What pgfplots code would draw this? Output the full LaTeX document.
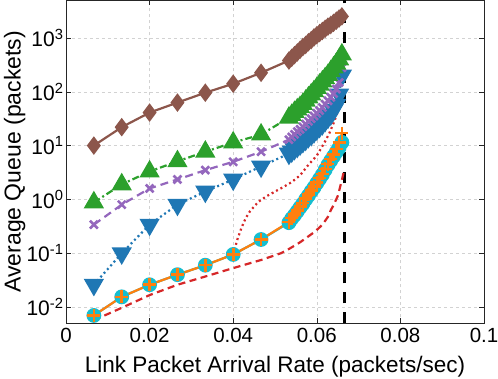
\documentclass[border=0pt]{standalone}
\usepackage{fontspec}
\setmainfont{Liberation Sans}
\usepackage{pgfplots}
\usepackage{pgfplotstable}
\pgfplotsset{compat=1.18}

\definecolor{tbrown}{HTML}{8C564B}
\definecolor{tgreen}{HTML}{2CA02C}
\definecolor{tpurple}{HTML}{9467BD}
\definecolor{tblue}{HTML}{1F77B4}
\definecolor{tcyan}{HTML}{17BECF}
\definecolor{torange}{HTML}{FF7F0E}
\definecolor{tred}{HTML}{D62728}
\definecolor{axgray}{HTML}{262626}

\pgfplotstableread{
x        brown green purple blue  cyan   orange
0.006667 10    0.88  0.34   0.026 0.0070 0.0070
0.013333 22    1.9   0.8    0.10  0.0155 0.0155
0.020000 41    3.3   1.6    0.34  0.026  0.026
0.026667 63    5.1   2.35   0.8   0.040  0.040
0.033333 96    7.7   3.5    1.4   0.060  0.060
0.040000 141   11.4  5.0    2.35  0.095  0.095
0.046667 225   16    7.7    4.1   0.18   0.18
0.053333 380   33    12.9   7.1   0.37   0.38
0.054000 427   37    14.5   7.8   0.44   0.45
0.054667 479   42    16.2   8.7   0.51   0.53
0.055333 537   47    18.2   9.5   0.60   0.62
0.056000 603   52    20     10.5  0.71   0.73
0.056667 676   59    22.4   11.7  0.83   0.86
0.057333 741   68    25.1   12.9  1.00   1.03
0.058000 832   78    28.2   14.5  1.18   1.22
0.058667 912   89    31.6   15.8  1.41   1.46
0.059333 1023  102   35.5   17.8  1.66   1.72
0.060000 1122  117   39.8   20    2.0    2.07
0.060667 1230  135   44.7   22.4  2.4    2.48
0.061333 1349  155   51     25.1  2.88   2.98
0.062000 1479  178   59     28.8  3.55   3.68
0.062667 1622  204   68     33.1  4.37   4.55
0.063333 1738  240   79     38    5.25   5.6
0.064000 1905  282   93     45.7  6.31   6.9
0.064667 2089  331   112    57.5  7.59   8.6
0.065333 2291  398   148    89    9.12   11.5
0.066000 2512  490   280    200   11.5   17
}\markdata

\pgfplotstableread{
x       y
0.006667 0.0057
0.013333 0.0097
0.020000 0.0167
0.026667 0.026
0.033333 0.037
0.040000 0.053
0.046667 0.075
0.051400 0.10
0.053333 0.12
0.056000 0.16
0.059500 0.25
0.061000 0.32
0.062000 0.40
0.063000 0.52
0.063300 0.62
0.064000 0.78
0.065000 1.15
0.065400 1.5
0.066000 2.3
0.066500 3.4
}\reddash

\pgfplotstableread{
x       y
0.0400 0.095
0.0410 0.18
0.0420 0.30
0.0430 0.45
0.0440 0.60
0.0460 0.90
0.0480 1.15
0.0500 1.40
0.0520 1.70
0.0540 2.1
0.0560 2.8
0.0580 4.4
0.0600 6.5
0.0620 12
0.0630 17
0.0640 26
0.0650 42
0.0655 54
0.0660 72
0.0665 92
}\reddot

\begin{document}
\begin{tikzpicture}
\begin{axis}[
  scale only axis,
  width=418pt, height=323pt,
  xmin=0, xmax=0.1,
  ymode=log, log basis y=10,
  ymin=0.005, ymax=5000,
  xtick={0,0.02,0.04,0.06,0.08,0.1},
  xticklabels={0,0.02,0.04,0.06,0.08,0.1},
  scaled x ticks=false,
  ytick={0.01,0.1,1,10,100,1000},
  yticklabel={10\textsuperscript{\pgfmathparse{int(round(\tick))}\pgfmathresult}},
  xticklabel style={font=\fontsize{20.5}{24}\selectfont, yshift=-1pt},
  yticklabel style={font=\fontsize{21}{24}\selectfont, xshift=1pt},
  /pgf/number format/assume math mode=true,
  xlabel={Link Packet Arrival Rate (packets/sec)},
  ylabel={Average Queue (packets)},
  xlabel style={font=\fontsize{22.5}{26}\selectfont,
    at={(axis description cs:0.5,0)}, anchor=south, yshift=-57pt},
  ylabel style={font=\fontsize{23}{26}\selectfont,
    at={(axis description cs:0,0.5)}, anchor=south, rotate=0, yshift=37pt},
  tick align=inside,
  major tick length=5pt,
  minor tick length=3pt,
  axis line style={axgray, line width=0.6pt},
  every tick/.style={axgray, line width=0.5pt},
  xmajorgrids, ymajorgrids, yminorgrids,
  major grid style={gray!35, dashed, line width=0.5pt},
  minor grid style={gray!30, dotted, line width=0.5pt},
  clip=true,
]
\coordinate (bl) at (rel axis cs:0,0);
\coordinate (tr) at (rel axis cs:1,1);
\addplot[black, line width=3.2pt, dash pattern=on 11pt off 9pt] coordinates {(0.066667,0.005) (0.066667,5000)};
\addplot[tred, line width=2.2pt, dash pattern=on 7pt off 4.5pt] table[x=x,y=y] {\reddash};
\addplot[tred, line width=2.2pt, dash pattern=on 2pt off 3pt] table[x=x,y=y] {\reddot};
\addplot[tblue, line width=2.2pt, dash pattern=on 2pt off 3pt, mark=triangle*, mark size=9.5pt, mark options={solid, rotate=180, fill=tblue}] table[x=x,y=blue] {\markdata};
\addplot[tpurple, line width=2.2pt, dash pattern=on 8pt off 5pt, mark=x, mark size=5.5pt, mark options={solid, line width=2.6pt}] table[x=x,y=purple] {\markdata};
\addplot[tgreen, line width=2.2pt, dash pattern=on 7pt off 3pt on 2pt off 3pt, mark=triangle*, mark size=9.5pt, mark options={solid, fill=tgreen}] table[x=x,y=green] {\markdata};
\addplot[tbrown, line width=2.2pt, mark=diamond*, mark size=7.5pt, mark options={solid, fill=tbrown}] table[x=x,y=brown] {\markdata};
\addplot[tcyan, line width=2.2pt, mark=*, mark size=6.3pt, mark options={solid, fill=tcyan}] table[x=x,y=cyan] {\markdata};
\addplot[torange, line width=2.2pt, mark=+, mark size=6.5pt, mark options={solid, line width=2.6pt}] table[x=x,y=orange] {\markdata};
\end{axis}
\pgfresetboundingbox
\path[use as bounding box] ([shift={(-66pt,-55pt)}]bl) rectangle ([shift={(14pt,0.3pt)}]tr);
\end{tikzpicture}
\end{document}
